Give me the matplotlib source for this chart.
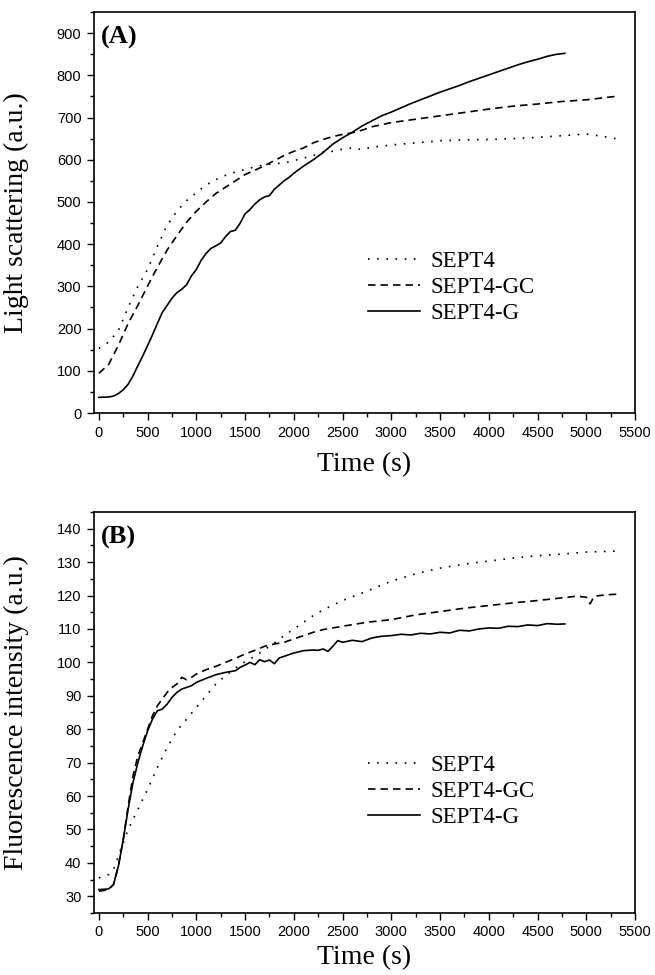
import matplotlib
matplotlib.use("Agg")
import matplotlib.pyplot as plt
from matplotlib.ticker import MultipleLocator

# ---- panel A: light scattering ----
a_sept4_t = [0, 100, 200, 300, 400, 500, 600, 700, 800, 900, 1000, 1100, 1200, 1300, 1400,
             1500, 1600, 1700, 1800, 1900, 2000, 2100, 2200, 2300, 2400, 2500, 2600, 2700,
             2800, 2900, 3000, 3250, 3500, 3750, 4000, 4250, 4500, 4750, 5000, 5150, 5300]
a_sept4_y = [153, 168, 195, 250, 300, 340, 395, 445, 478, 503, 522, 540, 553, 563, 571,
             577, 583, 588, 591, 592, 598, 604, 610, 618, 620, 625, 628, 624,
             630, 632, 635, 640, 645, 647, 648, 650, 653, 657, 661, 656, 650]

a_gc_t = [0, 100, 200, 300, 400, 500, 600, 700, 800, 900, 1000, 1100, 1200, 1300, 1400,
          1500, 1600, 1700, 1800, 1900, 2000, 2100, 2200, 2300, 2400, 2500, 2600, 2700,
          2800, 2900, 3000, 3250, 3500, 3750, 4000, 4250, 4500, 4750, 5000, 5150, 5300]
a_gc_y = [94, 115, 160, 212, 255, 301, 345, 386, 420, 452, 478, 500, 520, 535, 550,
          565, 575, 586, 598, 610, 620, 628, 640, 648, 655, 660, 664, 670,
          678, 683, 688, 696, 704, 712, 720, 727, 732, 738, 742, 746, 750]

a_g_t = [0, 100, 150, 200, 250, 300, 350, 400, 450, 500, 550, 600, 650, 700, 750, 800,
         850, 900, 950, 1000, 1050, 1100, 1150, 1200, 1250, 1300, 1350, 1400, 1450, 1500,
         1550, 1600, 1650, 1700, 1750, 1800, 1850, 1900, 1950, 2000, 2100, 2200, 2300,
         2400, 2500, 2600, 2700, 2800, 2900, 3000, 3100, 3200, 3300, 3400, 3500, 3600,
         3700, 3800, 3900, 4000, 4100, 4200, 4300, 4400, 4500, 4600, 4700, 4780]
a_g_y = [37, 38, 40, 46, 55, 68, 88, 112, 135, 160, 185, 212, 238, 255, 272, 285,
         293, 304, 325, 340, 362, 378, 390, 396, 403, 418, 430, 433, 450, 472,
         482, 495, 505, 512, 515, 530, 540, 550, 558, 568, 585, 600, 617,
         637, 652, 665, 680, 692, 704, 713, 723, 733, 742, 751, 760, 768,
         776, 785, 793, 801, 809, 817, 825, 832, 838, 845, 850, 852]

# ---- panel B: fluorescence ----
b_sept4_t = [0, 100, 150, 200, 250, 300, 400, 500, 600, 700, 800, 900, 1000, 1100, 1200,
             1300, 1400, 1500, 1600, 1700, 1800, 1900, 2000, 2100, 2200, 2300, 2500, 2750,
             3000, 3250, 3500, 3750, 4000, 4250, 4500, 4750, 5000, 5200, 5350]
b_sept4_y = [35.5, 36.5, 38, 42, 46, 50, 56, 62, 68.5, 74.5, 79.5, 83, 86.5, 90, 93.5,
             96, 98.3, 100.2, 101.8, 103.8, 105.8, 108, 110, 112, 114, 115.7, 118.5, 121.3,
             124.3, 126.5, 128.2, 129.4, 130.3, 131.2, 131.9, 132.4, 133, 133.2, 133.3]

b_gc_t = [0, 100, 150, 200, 250, 300, 350, 400, 450, 500, 550, 600, 650, 700, 750, 800,
          850, 900, 950, 1000, 1100, 1200, 1300, 1400, 1500, 1600, 1700, 1800, 1900, 2000,
          2100, 2200, 2300, 2500, 2750, 3000, 3250, 3500, 3750, 4000, 4250, 4500, 4750,
          4900, 5000, 5040, 5080, 5200, 5320]
b_gc_y = [31.5, 32, 33.5, 39, 47, 57, 66, 72, 76, 80, 84, 87, 89, 91, 92.5, 93.5,
          95.5, 94.8, 95.5, 96.5, 97.8, 98.8, 100, 101.2, 102.5, 103.6, 104.8, 105.5, 106, 107,
          108, 109, 109.8, 110.8, 112, 112.8, 114.2, 115.2, 116.2, 117, 117.8, 118.5, 119.3,
          119.8, 119.5, 117.5, 119.8, 120.2, 120.4]

b_g_t = [0, 100, 150, 200, 250, 300, 350, 400, 450, 500, 550, 600, 650, 700, 750, 800,
         850, 900, 950, 1000, 1100, 1200, 1300, 1400, 1450, 1500, 1550, 1600, 1650, 1700,
         1750, 1800, 1850, 1900, 2000, 2100, 2200, 2250, 2300, 2350, 2400, 2450, 2500,
         2600, 2700, 2800, 2900, 3000, 3100, 3200, 3300, 3400, 3500, 3600, 3700, 3800,
         3900, 4000, 4100, 4200, 4300, 4400, 4500, 4600, 4700, 4780]
b_g_y = [32, 32.2, 33.5, 39, 47, 56, 64, 70, 75, 79.5, 83, 85.5, 86, 87.5, 89.5, 91,
         92, 92.5, 93, 94, 95.2, 96.3, 97, 97.5, 98.5, 99.2, 100, 99.3, 100.8, 100.2,
         100.7, 99.6, 101.3, 101.8, 102.8, 103.5, 103.7, 103.6, 104, 103.3, 104.8, 106.5, 106,
         106.6, 106.2, 107.3, 107.8, 108, 108.4, 108.2, 108.7, 108.5, 109, 108.8, 109.6, 109.4,
         110, 110.3, 110.2, 110.8, 110.7, 111.2, 111, 111.6, 111.4, 111.5]

labels = ["SEPT4", "SEPT4-GC", "SEPT4-G"]
serif = "Liberation Serif"
sans = "Liberation Sans"

fig = plt.figure(figsize=(6.55, 9.75), dpi=100)
axA = fig.add_axes([0.1435, 0.5764, 0.826, 0.4113])
axB = fig.add_axes([0.1435, 0.0636, 0.826, 0.4113])

panels = [
    (axA, [(a_sept4_t, a_sept4_y), (a_gc_t, a_gc_y), (a_g_t, a_g_y)],
     "(A)", "Light scattering (a.u.)", (0, 950), 100, 50, 0.405, 9),
    (axB, [(b_sept4_t, b_sept4_y), (b_gc_t, b_gc_y), (b_g_t, b_g_y)],
     "(B)", "Fluorescence intensity (a.u.)", (25, 145), 10, 5, 0.395, 4),
]

styles = [(0, (1, 4.5)), (0, (4.5, 3)), "-"]

for ax, series, tag, ylab, ylim, ymaj, ymin, leg_y, xpad in panels:
    for (t, y), ls, lab in zip(series, styles, labels):
        ax.plot(t, y, color="black", lw=1.2, linestyle=ls, label=lab)
    ax.set_xlim(-50, 5500)
    ax.set_ylim(*ylim)
    ax.xaxis.set_major_locator(MultipleLocator(500))
    ax.xaxis.set_minor_locator(MultipleLocator(250))
    ax.yaxis.set_major_locator(MultipleLocator(ymaj))
    ax.yaxis.set_minor_locator(MultipleLocator(ymin))
    ax.tick_params(which="both", direction="out", top=False, right=False, width=1.0)
    ax.tick_params(which="major", length=5, labelsize=10.5, pad=4)
    ax.tick_params(which="minor", length=3)
    for lbl in ax.get_xticklabels() + ax.get_yticklabels():
        lbl.set_fontfamily(sans)
    for sp in ax.spines.values():
        sp.set_linewidth(1.2)
    ax.set_xlabel("Time (s)", fontsize=20, fontfamily=serif, labelpad=xpad)
    ax.set_ylabel(ylab, fontsize=20, fontfamily=serif)
    ax.yaxis.set_label_coords(-0.12, 0.5)
    ax.text(0.012, 0.965, tag, transform=ax.transAxes, ha="left", va="top",
            fontsize=19, fontweight="bold", fontfamily=serif)
    ax.legend(loc="upper left", bbox_to_anchor=(0.506, leg_y), frameon=False,
              borderpad=0, borderaxespad=0, handlelength=2.3, handletextpad=0.45,
              labelspacing=0.22, prop={"family": serif, "size": 16.5})

fig.savefig("out.png", dpi=100)
